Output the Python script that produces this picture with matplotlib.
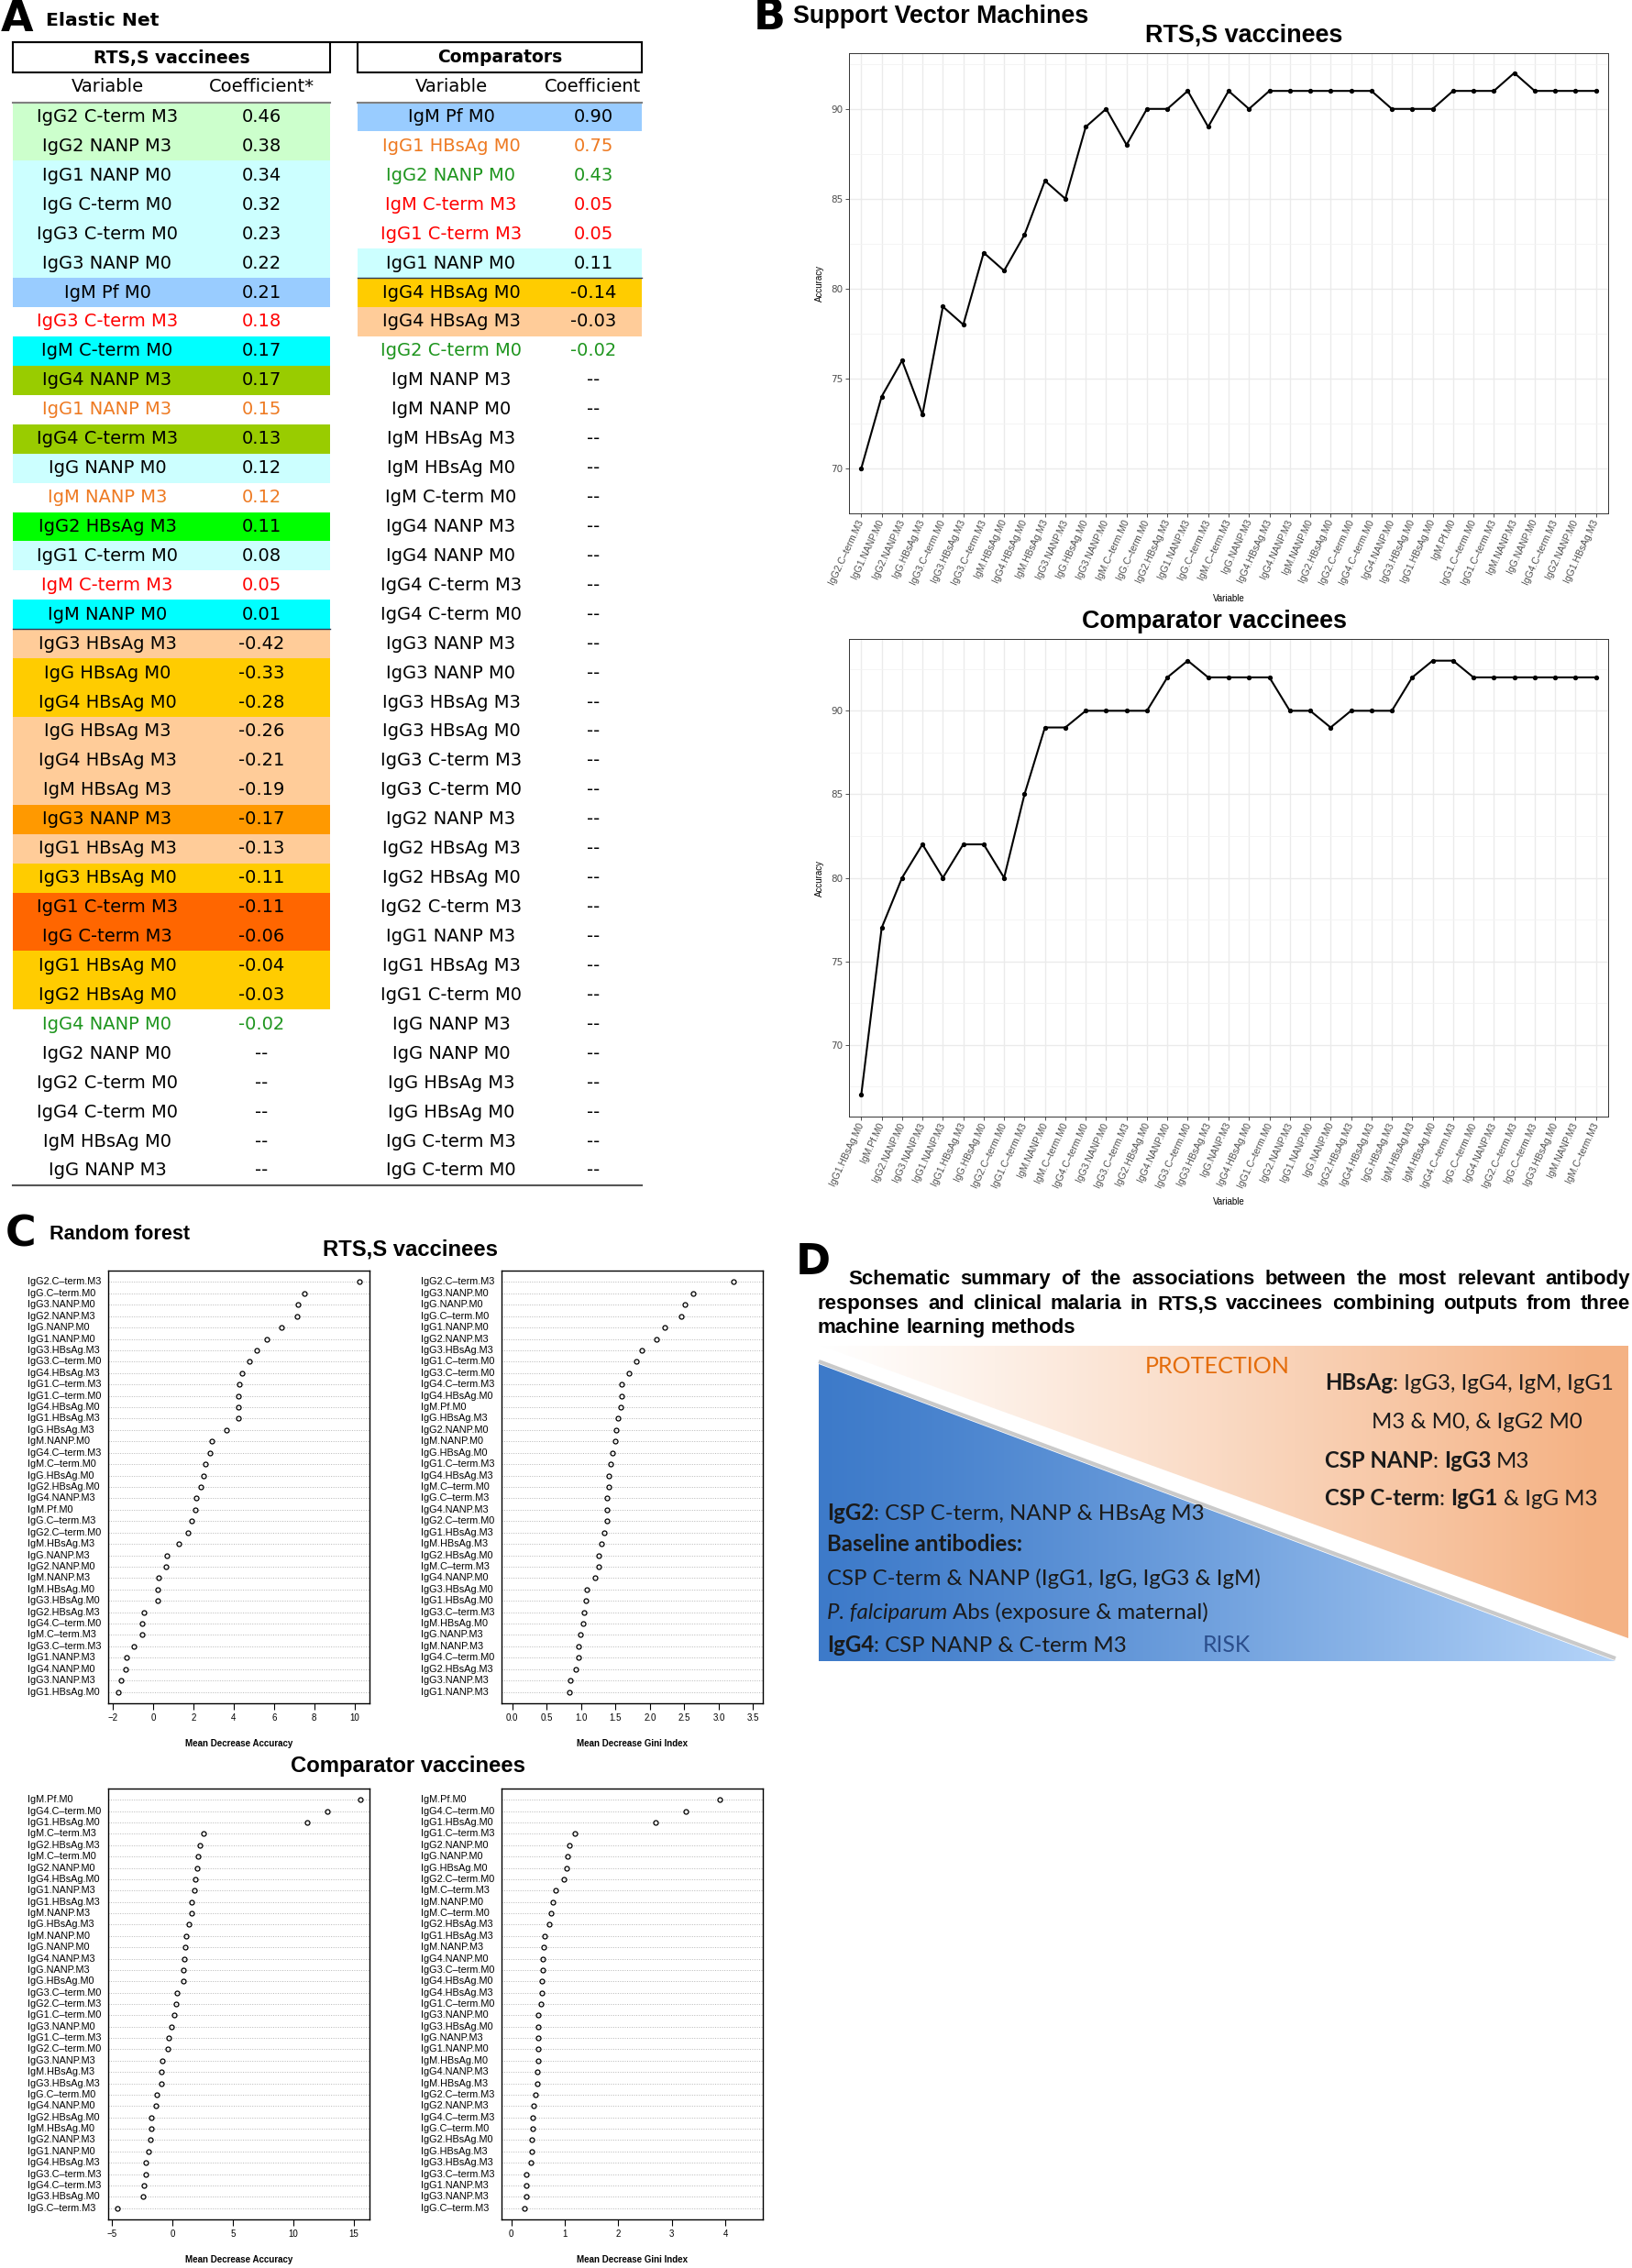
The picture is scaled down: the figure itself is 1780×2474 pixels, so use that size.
import matplotlib
matplotlib.use('Agg')
import matplotlib.pyplot as plt
import numpy as np
from matplotlib import font_manager
from matplotlib.patches import Polygon, Rectangle
from matplotlib.transforms import blended_transform_factory

nan = np.nan

# ---------------- A: Elastic Net ----------------
en_rtss_vars = ['IgG2 C-term M3', 'IgG2 NANP M3', 'IgG1 NANP M0', 'IgG C-term M0', 'IgG3 C-term M0',
                'IgG3 NANP M0', 'IgM Pf M0', 'IgG3 C-term M3', 'IgM C-term M0', 'IgG4 NANP M3',
                'IgG1 NANP M3', 'IgG4 C-term M3', 'IgG NANP M0', 'IgM NANP M3', 'IgG2 HBsAg M3',
                'IgG1 C-term M0', 'IgM C-term M3', 'IgM NANP M0', 'IgG3 HBsAg M3', 'IgG HBsAg M0',
                'IgG4 HBsAg M0', 'IgG HBsAg M3', 'IgG4 HBsAg M3', 'IgM HBsAg M3', 'IgG3 NANP M3',
                'IgG1 HBsAg M3', 'IgG3 HBsAg M0', 'IgG1 C-term M3', 'IgG C-term M3', 'IgG1 HBsAg M0',
                'IgG2 HBsAg M0', 'IgG4 NANP M0', 'IgG2 NANP M0', 'IgG2 C-term M0', 'IgG4 C-term M0',
                'IgM HBsAg M0', 'IgG NANP M3']
en_rtss_coef = [0.46, 0.38, 0.34, 0.32, 0.23, 0.22, 0.21, 0.18, 0.17, 0.17, 0.15, 0.13, 0.12, 0.12,
                0.11, 0.08, 0.05, 0.01, -0.42, -0.33, -0.28, -0.26, -0.21, -0.19, -0.17, -0.13,
                -0.11, -0.11, -0.06, -0.04, -0.03, -0.02, nan, nan, nan, nan, nan]

en_comp_vars = ['IgM Pf M0', 'IgG1 HBsAg M0', 'IgG2 NANP M0', 'IgM C-term M3', 'IgG1 C-term M3',
                'IgG1 NANP M0', 'IgG4 HBsAg M0', 'IgG4 HBsAg M3', 'IgG2 C-term M0', 'IgM NANP M3',
                'IgM NANP M0', 'IgM HBsAg M3', 'IgM HBsAg M0', 'IgM C-term M0', 'IgG4 NANP M3',
                'IgG4 NANP M0', 'IgG4 C-term M3', 'IgG4 C-term M0', 'IgG3 NANP M3', 'IgG3 NANP M0',
                'IgG3 HBsAg M3', 'IgG3 HBsAg M0', 'IgG3 C-term M3', 'IgG3 C-term M0', 'IgG2 NANP M3',
                'IgG2 HBsAg M3', 'IgG2 HBsAg M0', 'IgG2 C-term M3', 'IgG1 NANP M3', 'IgG1 HBsAg M3',
                'IgG1 C-term M0', 'IgG NANP M3', 'IgG NANP M0', 'IgG HBsAg M3', 'IgG HBsAg M0',
                'IgG C-term M3', 'IgG C-term M0']
en_comp_coef = [0.90, 0.75, 0.43, 0.05, 0.05, 0.11, -0.14, -0.03, -0.02] + [nan] * 28

# row highlight / text colours (style, kept apart from the data)
LG, LC, BL, CY, OL, GR = '#CCFFCC', '#CCFFFF', '#99CCFF', '#00FFFF', '#99CC00', '#00FF00'
PE, GO, OR, DO = '#FFCC99', '#FFCC00', '#FF9900', '#FF6600'
RED, ORT, GRT, K = '#FF0000', '#EE7A22', '#1E951E', 'black'
rtss_bg = [LG, LG, LC, LC, LC, LC, BL, None, CY, OL, None, OL, LC, None, GR, LC, None, CY,
           PE, GO, GO, PE, PE, PE, OR, PE, GO, DO, DO, GO, GO] + [None] * 6
rtss_tc = [K] * 7 + [RED, K, K, ORT, K, K, ORT, K, K, RED] + [K] * 14 + [GRT] + [K] * 5
comp_bg = [BL, None, None, None, None, LC, GO, PE] + [None] * 29
comp_tc = [K, ORT, GRT, RED, RED, K, K, K, GRT] + [K] * 28

# ---------------- B: Support Vector Machines ----------------
svm_rtss_vars = ['IgG2.C-term.M3', 'IgG1.NANP.M0', 'IgG2.NANP.M3', 'IgG.HBsAg.M3', 'IgG3.C-term.M0',
                 'IgG3.HBsAg.M3', 'IgG3.C-term.M3', 'IgM.HBsAg.M0', 'IgG4.HBsAg.M0', 'IgM.HBsAg.M3',
                 'IgG3.NANP.M3', 'IgG.HBsAg.M0', 'IgG3.NANP.M0', 'IgM.C-term.M0', 'IgG.C-term.M0',
                 'IgG2.HBsAg.M3', 'IgG1.NANP.M3', 'IgG.C-term.M3', 'IgM.C-term.M3', 'IgG.NANP.M3',
                 'IgG4.HBsAg.M3', 'IgG4.NANP.M3', 'IgM.NANP.M0', 'IgG2.HBsAg.M0', 'IgG2.C-term.M0',
                 'IgG4.C-term.M0', 'IgG4.NANP.M0', 'IgG3.HBsAg.M0', 'IgG1.HBsAg.M0', 'IgM.Pf.M0',
                 'IgG1.C-term.M0', 'IgG1.C-term.M3', 'IgM.NANP.M3', 'IgG.NANP.M0', 'IgG4.C-term.M3',
                 'IgG2.NANP.M0', 'IgG1.HBsAg.M3']
svm_rtss_acc = [70, 74, 76, 73, 79, 78, 82, 81, 83, 86, 85, 89, 90, 88, 90, 90, 91, 89, 91, 90,
                91, 91, 91, 91, 91, 91, 90, 90, 90, 91, 91, 91, 92, 91, 91, 91, 91]

svm_comp_vars = ['IgG1.HBsAg.M0', 'IgM.Pf.M0', 'IgG2.NANP.M0', 'IgG3.NANP.M3', 'IgG1.NANP.M3',
                 'IgG1.HBsAg.M3', 'IgG.HBsAg.M0', 'IgG2.C-term.M0', 'IgG1.C-term.M3', 'IgM.NANP.M0',
                 'IgM.C-term.M0', 'IgG4.C-term.M0', 'IgG3.NANP.M0', 'IgG3.C-term.M3', 'IgG2.HBsAg.M0',
                 'IgG4.NANP.M0', 'IgG3.C-term.M0', 'IgG3.HBsAg.M3', 'IgG.NANP.M3', 'IgG4.HBsAg.M0',
                 'IgG1.C-term.M0', 'IgG2.NANP.M3', 'IgG1.NANP.M0', 'IgG.NANP.M0', 'IgG2.HBsAg.M3',
                 'IgG4.HBsAg.M3', 'IgG.HBsAg.M3', 'IgM.HBsAg.M3', 'IgM.HBsAg.M0', 'IgG4.C-term.M3',
                 'IgG.C-term.M0', 'IgG4.NANP.M3', 'IgG2.C-term.M3', 'IgG.C-term.M3', 'IgG3.HBsAg.M0',
                 'IgM.NANP.M3', 'IgM.C-term.M3']
svm_comp_acc = [67, 77, 80, 82, 80, 82, 82, 80, 85, 89, 89, 90, 90, 90, 90, 92, 93, 92, 92, 92,
                92, 90, 90, 89, 90, 90, 90, 92, 93, 93, 92, 92, 92, 92, 92, 92, 92]

# ---------------- C: Random forest ----------------
rf_rtss_mda_vars = ['IgG2.C-term.M3', 'IgG.C-term.M0', 'IgG3.NANP.M0', 'IgG2.NANP.M3', 'IgG.NANP.M0',
                    'IgG1.NANP.M0', 'IgG3.HBsAg.M3', 'IgG3.C-term.M0', 'IgG4.HBsAg.M3', 'IgG1.C-term.M3',
                    'IgG1.C-term.M0', 'IgG4.HBsAg.M0', 'IgG1.HBsAg.M3', 'IgG.HBsAg.M3', 'IgM.NANP.M0',
                    'IgG4.C-term.M3', 'IgM.C-term.M0', 'IgG.HBsAg.M0', 'IgG2.HBsAg.M0', 'IgG4.NANP.M3',
                    'IgM.Pf.M0', 'IgG.C-term.M3', 'IgG2.C-term.M0', 'IgM.HBsAg.M3', 'IgG.NANP.M3',
                    'IgG2.NANP.M0', 'IgM.NANP.M3', 'IgM.HBsAg.M0', 'IgG3.HBsAg.M0', 'IgG2.HBsAg.M3',
                    'IgG4.C-term.M0', 'IgM.C-term.M3', 'IgG3.C-term.M3', 'IgG1.NANP.M3', 'IgG4.NANP.M0',
                    'IgG3.NANP.M3', 'IgG1.HBsAg.M0']
rf_rtss_mda = [10.27, 7.51, 7.19, 7.13, 6.37, 5.63, 5.16, 4.80, 4.40, 4.30, 4.25, 4.25, 4.24, 3.66,
               2.93, 2.82, 2.59, 2.52, 2.37, 2.14, 2.11, 1.91, 1.73, 1.29, 0.68, 0.63, 0.27, 0.22,
               0.21, -0.48, -0.56, -0.57, -0.97, -1.35, -1.36, -1.62, -1.76]

rf_rtss_gini_vars = ['IgG2.C-term.M3', 'IgG3.NANP.M0', 'IgG.NANP.M0', 'IgG.C-term.M0', 'IgG1.NANP.M0',
                     'IgG2.NANP.M3', 'IgG3.HBsAg.M3', 'IgG1.C-term.M0', 'IgG3.C-term.M0', 'IgG4.C-term.M3',
                     'IgG4.HBsAg.M0', 'IgM.Pf.M0', 'IgG.HBsAg.M3', 'IgG2.NANP.M0', 'IgM.NANP.M0',
                     'IgG.HBsAg.M0', 'IgG1.C-term.M3', 'IgG4.HBsAg.M3', 'IgM.C-term.M0', 'IgG.C-term.M3',
                     'IgG4.NANP.M3', 'IgG2.C-term.M0', 'IgG1.HBsAg.M3', 'IgM.HBsAg.M3', 'IgG2.HBsAg.M0',
                     'IgM.C-term.M3', 'IgG4.NANP.M0', 'IgG3.HBsAg.M0', 'IgG1.HBsAg.M0', 'IgG3.C-term.M3',
                     'IgM.HBsAg.M0', 'IgG.NANP.M3', 'IgM.NANP.M3', 'IgG4.C-term.M0', 'IgG2.HBsAg.M3',
                     'IgG3.NANP.M3', 'IgG1.NANP.M3']
rf_rtss_gini = [3.22, 2.63, 2.51, 2.46, 2.22, 2.10, 1.88, 1.80, 1.69, 1.59, 1.59, 1.57, 1.53, 1.51,
                1.50, 1.45, 1.43, 1.40, 1.40, 1.37, 1.37, 1.37, 1.34, 1.30, 1.26, 1.25, 1.20, 1.08,
                1.07, 1.05, 1.03, 0.99, 0.97, 0.97, 0.93, 0.84, 0.83]

rf_comp_mda_vars = ['IgM.Pf.M0', 'IgG4.C-term.M0', 'IgG1.HBsAg.M0', 'IgM.C-term.M3', 'IgG2.HBsAg.M3',
                    'IgM.C-term.M0', 'IgG2.NANP.M0', 'IgG4.HBsAg.M0', 'IgG1.NANP.M3', 'IgG1.HBsAg.M3',
                    'IgM.NANP.M3', 'IgG.HBsAg.M3', 'IgM.NANP.M0', 'IgG.NANP.M0', 'IgG4.NANP.M3',
                    'IgG.NANP.M3', 'IgG.HBsAg.M0', 'IgG3.C-term.M0', 'IgG2.C-term.M3', 'IgG1.C-term.M0',
                    'IgG3.NANP.M0', 'IgG1.C-term.M3', 'IgG2.C-term.M0', 'IgG3.NANP.M3', 'IgM.HBsAg.M3',
                    'IgG3.HBsAg.M3', 'IgG.C-term.M0', 'IgG4.NANP.M0', 'IgG2.HBsAg.M0', 'IgM.HBsAg.M0',
                    'IgG2.NANP.M3', 'IgG1.NANP.M0', 'IgG4.HBsAg.M3', 'IgG3.C-term.M3', 'IgG4.C-term.M3',
                    'IgG3.HBsAg.M0', 'IgG.C-term.M3']
rf_comp_mda = [15.51, 12.82, 11.15, 2.53, 2.22, 2.07, 2.00, 1.89, 1.77, 1.57, 1.54, 1.36, 1.13, 1.03,
               0.96, 0.88, 0.86, 0.37, 0.30, 0.10, -0.08, -0.36, -0.39, -0.82, -0.92, -0.94, -1.32,
               -1.35, -1.73, -1.73, -1.86, -1.98, -2.21, -2.24, -2.34, -2.47, -4.54]

rf_comp_gini_vars = ['IgM.Pf.M0', 'IgG4.C-term.M0', 'IgG1.HBsAg.M0', 'IgG1.C-term.M3', 'IgG2.NANP.M0',
                     'IgG.NANP.M0', 'IgG.HBsAg.M0', 'IgG2.C-term.M0', 'IgM.C-term.M3', 'IgM.NANP.M0',
                     'IgM.C-term.M0', 'IgG2.HBsAg.M3', 'IgG1.HBsAg.M3', 'IgM.NANP.M3', 'IgG4.NANP.M0',
                     'IgG3.C-term.M0', 'IgG4.HBsAg.M0', 'IgG4.HBsAg.M3', 'IgG1.C-term.M0', 'IgG3.NANP.M0',
                     'IgG3.HBsAg.M0', 'IgG.NANP.M3', 'IgG1.NANP.M0', 'IgM.HBsAg.M0', 'IgG4.NANP.M3',
                     'IgM.HBsAg.M3', 'IgG2.C-term.M3', 'IgG2.NANP.M3', 'IgG4.C-term.M3', 'IgG.C-term.M0',
                     'IgG2.HBsAg.M0', 'IgG.HBsAg.M3', 'IgG3.HBsAg.M3', 'IgG3.C-term.M3', 'IgG1.NANP.M3',
                     'IgG3.NANP.M3', 'IgG.C-term.M3']
rf_comp_gini = [3.90, 3.27, 2.70, 1.19, 1.09, 1.06, 1.03, 0.98, 0.83, 0.78, 0.75, 0.71, 0.63, 0.61,
                0.59, 0.59, 0.58, 0.57, 0.55, 0.51, 0.51, 0.51, 0.50, 0.50, 0.48, 0.48, 0.45, 0.42,
                0.40, 0.40, 0.39, 0.39, 0.37, 0.29, 0.29, 0.29, 0.25]

# ---------------- figure ----------------
W, H = 1781, 2474
fig = plt.figure(figsize=(W / 100, H / 100), dpi=100)
renderer = fig.canvas.get_renderer()

# full-figure overlay axes in pixel units (y downwards) for tables, headings, schematic
ax0 = fig.add_axes([0, 0, 1, 1])
ax0.set_xlim(0, W)
ax0.set_ylim(H, 0)
ax0.axis('off')

_fonts = {f.name for f in font_manager.fontManager.ttflist}
NARROW = 'Liberation Sans Narrow' if 'Liberation Sans Narrow' in _fonts else 'Liberation Sans'
ARIAL = 'Liberation Sans'
BODY = 'Lato'


def rect(x0, y0, x1, y1):
    return [x0 / W, 1 - y1 / H, (x1 - x0) / W, (y1 - y0) / H]


def text_w(s, **kw):
    t = ax0.text(0, 0, s, **kw)
    w = t.get_window_extent(renderer).width
    t.remove()
    return w


def fit(s, width, **kw):
    return 10 * width / text_w(s, fontsize=10, **kw)


def dash(s):
    return s.replace('-', '\u2013')


# ---------------- panel A ----------------
ax0.text(1, 22, 'A', fontsize=33, fontweight='bold', family='DejaVu Sans', va='center', ha='left')
ax0.text(50, 22, 'Elastic Net', fontsize=fit('Elastic Net', 123, fontweight='bold', family='DejaVu Sans'),
         fontweight='bold', family='DejaVu Sans', va='center', ha='left')

ROW0, ROWH = 111.5, 31.93
ax0.plot([14, 700], [46, 46], color='black', lw=1.5)
ax0.plot([14, 700], [ROW0 + 37 * ROWH] * 2, color='#555555', lw=1.5)


def draw_table(x0, x1, xv, xc, title, coef_head, names, coefs, bgs, tcs, split):
    ax0.add_patch(Rectangle((x0, 46), x1 - x0, 33, fc='white', ec='black', lw=1.5))
    ax0.text((x0 + x1) / 2, 63, title, ha='center', va='center', fontsize=13.5,
             fontweight='bold', family='DejaVu Sans')
    ax0.text(xv, 95, 'Variable', ha='center', va='center', fontsize=14, family='DejaVu Sans')
    ax0.text(xc, 95, coef_head, ha='center', va='center', fontsize=14, family='DejaVu Sans')
    ax0.plot([x0, x1], [ROW0, ROW0], color='#808080', lw=1.5)
    for i, (nm, c, bg, tc) in enumerate(zip(names, coefs, bgs, tcs)):
        top = ROW0 + i * ROWH
        if bg:
            ax0.add_patch(Rectangle((x0, top), x1 - x0, ROWH, fc=bg, ec='none', zorder=0))
        yc = top + ROWH / 2
        ax0.text(xv, yc, nm, ha='center', va='center', fontsize=14, color=tc, family='DejaVu Sans')
        ax0.text(xc, yc, '--' if np.isnan(c) else f'{c:.2f}', ha='center', va='center',
                 fontsize=14, color=tc, family='DejaVu Sans')
    ax0.plot([x0, x1], [ROW0 + split * ROWH] * 2, color='#2F3B55', lw=1.0)


draw_table(14, 360, 117, 285, 'RTS,S vaccinees', 'Coefficient*', en_rtss_vars, en_rtss_coef,
           rtss_bg, rtss_tc, 18)
draw_table(390, 700, 492, 647, 'Comparators', 'Coefficient', en_comp_vars, en_comp_coef,
           comp_bg, comp_tc, 6)

# ---------------- panel B ----------------
ax0.text(822, 20, 'B', fontsize=33, fontweight='bold', family='DejaVu Sans', va='center', ha='left')
ax0.text(865, 18, 'Support Vector Machines', va='center', ha='left', fontweight='bold', family=NARROW,
         fontsize=fit('Support Vector Machines', 322, fontweight='bold', family=NARROW))
svm_title = fit('Comparator vaccinees', 289, fontweight='bold', family=NARROW)


def svm_panel(box, names, acc, title, tx, ty):
    ax = fig.add_axes(rect(*box))
    x = np.arange(1, len(names) + 1)
    lo, hi = min(acc), max(acc)
    pad = 0.05 * (hi - lo)
    ax.set_xlim(0.4, len(names) + 0.6)
    ax.set_ylim(lo - pad, hi + pad)
    ax.set_yticks([70, 75, 80, 85, 90])
    ax.set_yticks(np.arange(67.5, 95, 5), minor=True)
    ax.set_xticks(x)
    ax.set_xticklabels([dash(n) for n in names], rotation=65, ha='right', va='center',
                       rotation_mode='anchor', family=ARIAL)
    ax.grid(which='major', color='#EBEBEB', lw=1.0)
    ax.grid(which='minor', axis='y', color='#F3F3F3', lw=0.6)
    ax.set_axisbelow(True)
    ax.tick_params(which='major', length=3, width=0.6, color='#333333', labelsize=7.5,
                   labelcolor='#4D4D4D', pad=2)
    ax.tick_params(which='minor', length=0)
    for s in ax.spines.values():
        s.set_color('#333333')
        s.set_linewidth(0.7)
    ax.plot(x, acc, color='black', lw=1.5, marker='o', ms=2.8, zorder=3)
    ax0.text(tx, ty, title, ha='center', va='center', fontweight='bold', family=NARROW, fontsize=svm_title)
    cy = (box[1] + box[3]) / 2
    ax0.text(894, cy, 'Accuracy', rotation=90, ha='center', va='center', fontsize=7, family=ARIAL)
    ax0.text((box[0] + box[2]) / 2, box[3] + 93, 'Variable', ha='center', va='center', fontsize=7,
             family=ARIAL)


svm_panel((926, 58, 1754, 560), svm_rtss_vars, svm_rtss_acc, 'RTS,S vaccinees', 1357, 38)
svm_panel((926, 697, 1754, 1218), svm_comp_vars, svm_comp_acc, 'Comparator vaccinees', 1325, 678)

# ---------------- panel C ----------------
ax0.text(6, 1347, 'C', fontsize=33, fontweight='bold', family='DejaVu Sans', va='center', ha='left')
ax0.text(54, 1347, 'Random forest', va='center', ha='left', fontweight='bold', family=NARROW,
         fontsize=fit('Random forest', 153, fontweight='bold', family=NARROW))
rf_title = fit('Comparator vaccinees', 255, fontweight='bold', family=NARROW)
ax0.text(448, 1363, 'RTS,S vaccinees', ha='center', va='center', fontweight='bold', family=NARROW,
         fontsize=rf_title)
ax0.text(445, 1926, 'Comparator vaccinees', ha='center', va='center', fontweight='bold', family=NARROW,
         fontsize=rf_title)


def rf_panel(box, names, vals, xlim, ticks, ticklabels, xlabel, lab_x):
    ax = fig.add_axes(rect(*box))
    n = len(names)
    y = np.arange(n, 0, -1)
    ax.hlines(y, xlim[0], xlim[1], colors='#B5B5B5', linestyles=(0, (1, 1.6)), lw=0.7)
    ax.plot(vals, y, 'o', mfc='none', mec='black', ms=3.6, mew=0.9)
    ax.set_xlim(*xlim)
    ax.set_ylim(0, n + 1)
    ax.set_yticks([])
    ax.set_xticks(ticks)
    ax.set_xticklabels(ticklabels, family=ARIAL)
    ax.tick_params(axis='x', length=5, width=0.8, labelsize=7, pad=3)
    for s in ax.spines.values():
        s.set_linewidth(1.0)
    tr = blended_transform_factory(fig.transFigure, ax.transData)
    for nm, yy in zip(names, y):
        ax.text(lab_x / W, yy, dash(nm), transform=tr, ha='left', va='center', fontsize=7.8,
                family=ARIAL, clip_on=False)
    ax0.text((box[0] + box[2]) / 2, box[3] + 44, xlabel, ha='center', va='center', fontsize=7,
             fontweight='bold', family=ARIAL)


rf_panel((118, 1386, 403, 1858), rf_rtss_mda_vars, rf_rtss_mda, (-2.24, 10.75),
         [-2, 0, 2, 4, 6, 8, 10], ['\u22122', '0', '2', '4', '6', '8', '10'],
         'Mean Decrease Accuracy', 30)
rf_panel((547, 1386, 832, 1858), rf_rtss_gini_vars, rf_rtss_gini, (-0.155, 3.64),
         np.arange(0, 3.6, 0.5), ['0.0', '0.5', '1.0', '1.5', '2.0', '2.5', '3.0', '3.5'],
         'Mean Decrease Gini Index', 459)
rf_panel((118, 1951, 403, 2421), rf_comp_mda_vars, rf_comp_mda, (-5.33, 16.29),
         [-5, 0, 5, 10, 15], ['\u22125', '0', '5', '10', '15'], 'Mean Decrease Accuracy', 30)
rf_panel((547, 1951, 832, 2421), rf_comp_gini_vars, rf_comp_gini, (-0.18, 4.70),
         [0, 1, 2, 3, 4], ['0', '1', '2', '3', '4'], 'Mean Decrease Gini Index', 459)

# ---------------- panel D ----------------
ax0.text(868, 1378, 'D', fontsize=33, fontweight='bold', family='DejaVu Sans', va='center', ha='left')

RIGHT = 1778
title_lines = [
    (925, 1393, 'Schematic summary of the associations between the most relevant antibody', True),
    (892, 1420, 'responses and clinical malaria in RTS,S vaccinees combining outputs from three', True),
    (892, 1446, 'machine learning methods', False),
]
# largest bold size that still lets each justified line fit with normal word spacing
t10 = dict(fontsize=10, fontweight='bold', family=NARROW)
sp10 = text_w('a a', **t10) - text_w('aa', **t10)
TSIZE = min(16.0, *[0.985 * 10 * (RIGHT - x) /
                    (sum(text_w(w, **t10) for w in line.split()) + sp10 * (len(line.split()) - 1))
                    for x, _, line, just in title_lines if just])
tkw = dict(fontsize=TSIZE, fontweight='bold', family=NARROW)
space_w = text_w('a a', **tkw) - text_w('aa', **tkw)
for x, yc, line, just in title_lines:
    words = line.split()
    ws = [text_w(w, **tkw) for w in words]
    gap = (RIGHT - x - sum(ws)) / (len(words) - 1) if just else space_w
    for w, wd in zip(words, ws):
        ax0.text(x, yc, w, ha='left', va='center_baseline', **tkw)
        x += wd + gap

# schematic: two gradient triangles separated by a white band
BX0, BX1, BY0, BY1 = 893, 1776, 1468, 1812
gx = np.linspace(0, 1, 400)[:, None]
blue0, blue1 = np.array([0.24, 0.48, 0.79]), np.array([0.72, 0.84, 0.98])
blue_img = (blue0 + (blue1 - blue0) * gx ** 1.2)[None, :, :]
or0, or1 = np.array([1.0, 1.0, 1.0]), np.array([0.96, 0.70, 0.52])
or_img = (or0 + (or1 - or0) * np.clip(gx * 1.05, 0, 1) ** 1.1)[None, :, :]

blue_tri = Polygon([(BX0, 1488), (BX0, BY1), (1762, BY1)], closed=True, fc='none', ec='none')
or_tri = Polygon([(896, BY0), (BX1, BY0), (BX1, 1787)], closed=True, fc='none', ec='none')
ax0.add_patch(blue_tri)
ax0.add_patch(or_tri)
ax0.plot([BX0, 1762], [1485, 1809], color='#8A8A8A', lw=3, alpha=0.45, solid_capstyle='butt')
for img, tri in ((blue_img, blue_tri), (or_img, or_tri)):
    im = ax0.imshow(img, extent=(BX0, BX1, BY1, BY0), aspect='auto', interpolation='bilinear', zorder=2)
    im.set_clip_path(tri)
ax0.set_xlim(0, W)
ax0.set_ylim(H, 0)

bsize = fit('CSP C-term & NANP (IgG1, IgG, IgG3 & IgM)', 468, family=BODY)
bkw = dict(fontsize=bsize, family=BODY)
bspace = text_w('a a', **bkw) - text_w('aa', **bkw)


def rich(x, yc, parts, color='#1A1A1A'):
    base = yc + 0.36 * bsize * 100 / 72
    for s, weight, style in parts:
        core = s.strip(' ')
        x += (len(s) - len(s.lstrip(' '))) * bspace
        kw = dict(bkw, fontweight=weight, fontstyle=style)
        ax0.text(x, base, core, ha='left', va='baseline', color=color, zorder=4, **kw)
        x += text_w(core, **kw) + (len(s) - len(s.rstrip(' '))) * bspace


N, B_, I = 'normal', 'bold', 'italic'
rich(1445, 1507, [('HBsAg', B_, N), (': IgG3, IgG4, IgM, IgG1', N, N)])
rich(1496, 1549, [('M3 & M0, & IgG2 M0', N, N)])
rich(1445, 1592, [('CSP NANP', B_, N), (': ', N, N), ('IgG3', B_, N), (' M3', N, N)])
rich(1445, 1633, [('CSP C-term', B_, N), (': ', N, N), ('IgG1', B_, N), (' & IgG M3', N, N)])
rich(902, 1649, [('IgG2', B_, N), (': CSP C-term, NANP & HBsAg M3', N, N)])
rich(902, 1683, [('Baseline antibodies:', B_, N)])
rich(902, 1720, [('CSP C-term & NANP (IgG1, IgG, IgG3 & IgM)', N, N)])
rich(902, 1757, [('P. falciparum', N, I), (' Abs (exposure & maternal)', N, N)])
rich(902, 1793, [('IgG4', B_, N), (': CSP NANP & C-term M3', N, N)])

ax0.text(1328, 1491, 'PROTECTION', ha='center', va='center', color='#E46C0A', family=BODY, zorder=4,
         fontsize=fit('PROTECTION', 157, family=BODY))
ax0.text(1338, 1795, 'RISK', ha='center', va='center', color='#2B4E8C', family=BODY, zorder=4,
         fontsize=fit('RISK', 52, family=BODY))

fig.savefig('out.png', dpi=100, facecolor='white')
